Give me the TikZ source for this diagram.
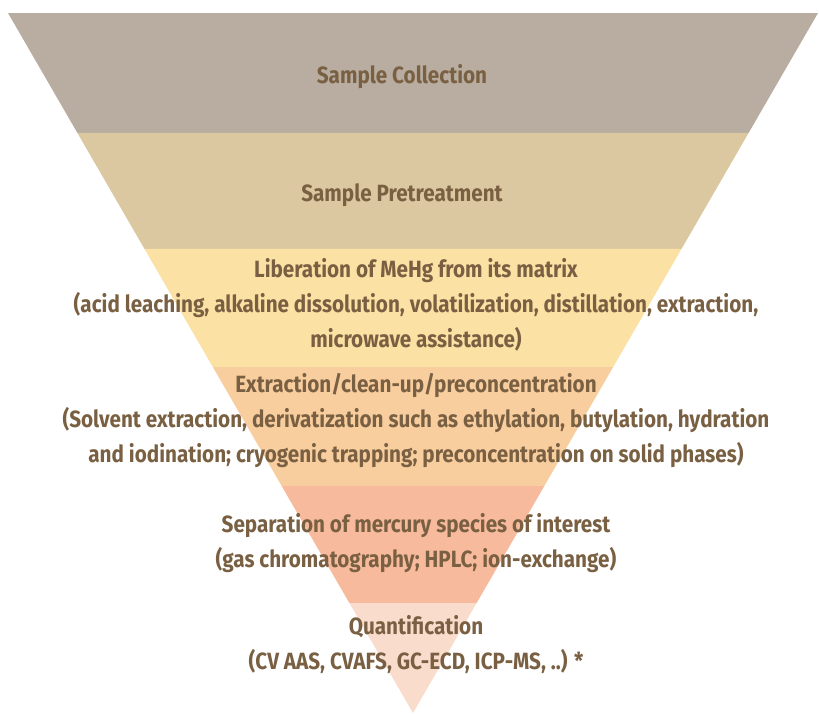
\documentclass[tikz,border=0pt]{standalone}
\usepackage{fontspec}
\setmainfont{Fira Sans}[FakeStretch=0.88]
\usepackage{tikz}
\usetikzlibrary{calc}

\definecolor{ink}{RGB}{122,96,66}
\definecolor{collect}{RGB}{184,173,160}
\definecolor{pretreat}{RGB}{219,200,160}
\definecolor{liberate}{RGB}{251,225,163}
\definecolor{extract}{RGB}{249,206,159}
\definecolor{separate}{RGB}{248,186,156}
\definecolor{quantify}{RGB}{250,220,205}

\begin{document}
\begin{tikzpicture}[x=1pt, y=-1pt,
    lbl/.style={text=ink, inner sep=0pt, align=center,
      font=\bfseries\fontsize{23.5}{35}\selectfont}]
  \useasboundingbox (0,0) rectangle (819,713);
  \coordinate (tl) at (8,13);
  \coordinate (tr) at (818,13);
  \coordinate (apex) at (413,713);
  % funnel bands, depth from the top edge
  \foreach \a/\b/\c in {0/120/collect, 120/236/pretreat, 236/354/liberate,
      354/473/extract, 473/590/separate, 590/700/quantify}
    \path[fill=\c] ($(tl)!{\a/700}!(apex)$) -- ($(tr)!{\a/700}!(apex)$)
      -- ($(tr)!{\b/700}!(apex)$) -- ($(tl)!{\b/700}!(apex)$) -- cycle;
  \node[lbl] (collection) at (402,77) {Sample Collection};
  \node[lbl] (pretreatment) at (402,195) {Sample Pretreatment};
  \node[lbl] (liberation) at (416,305) {Liberation of MeHg from its matrix\\
    (acid leaching, alkaline dissolution, volatilization, distillation, extraction,\\
    microwave assistance)};
  \node[lbl] (extraction) at (416,421) {Extraction/clean-up/preconcentration\\
    (Solvent extraction, derivatization such as ethylation, butylation, hydration\\
    and iodination; cryogenic trapping; preconcentration on solid phases)};
  \node[lbl] (separation) at (416,543) {Separation of mercury species of interest\\
    (gas chromatography; HPLC; ion-exchange)};
  \node[lbl] (quantification) at (416,645) {Quantification\\
    (CV AAS, CVAFS, GC-ECD, ICP-MS, ..) *};
\end{tikzpicture}
\end{document}
